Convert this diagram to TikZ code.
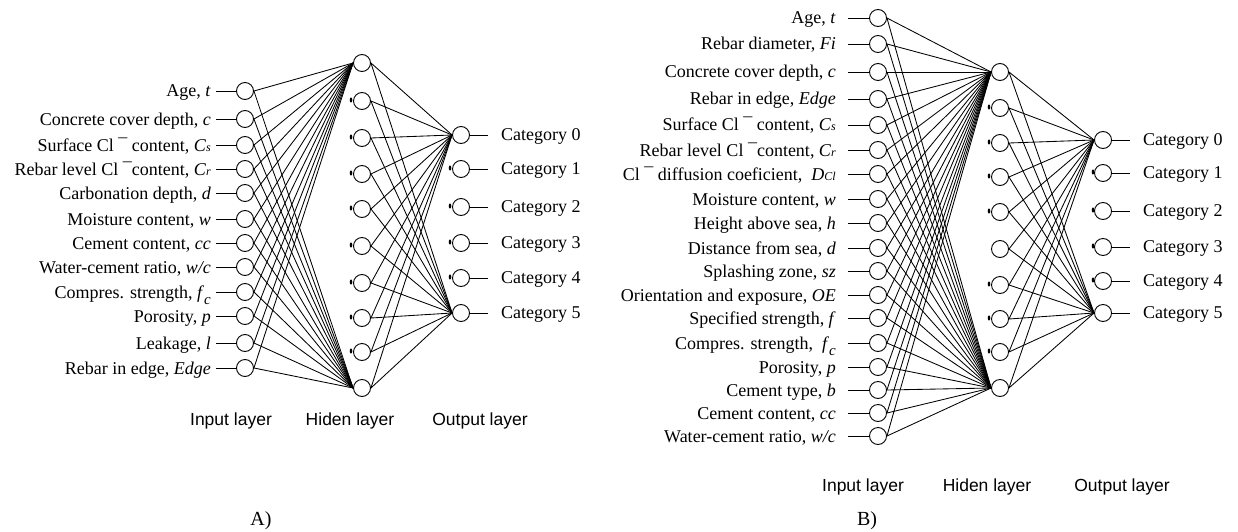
\documentclass[tikz,border=0pt]{standalone}
\usepackage{fontspec}
\setmainfont{Liberation Serif}
\newfontfamily\laysans{Liberation Sans}
\newcommand\smsub[1]{{\fontsize{12}{12}\selectfont\itshape #1}}
\newcommand\lowsub[1]{\raisebox{-6pt}{\fontsize{15}{15}\selectfont\itshape #1}}
\begin{document}
\begin{tikzpicture}[x=1pt,y=-1pt,font=\fontsize{18}{20}\selectfont,
  neuron/.style={circle,draw,line width=0.9pt,minimum size=17pt,inner sep=0pt},
  link/.style={line width=0.85pt},
  inlab/.style={anchor=base east,inner sep=0pt},
  catlab/.style={anchor=base west,inner sep=0pt},
  laylab/.style={anchor=base,inner sep=0pt,font=\laysans\fontsize{17.5}{20}\selectfont},
  panlab/.style={anchor=base,inner sep=0pt,font=\fontsize{20}{22}\selectfont}]
\useasboundingbox (0,0) rectangle (1238,532);

% ================= Panel A =================
\foreach \y [count=\i] in {91,119,145,169,193,219,243,267,292,316,343,368}
  \node[neuron] (ai\i) at (245,\y) {};
\foreach \y [count=\i] in {63,101,138,174,209,246,283,318,352,388}
  \node[neuron] (ah\i) at (362,\y) {};
\foreach \y [count=\i] in {135,169,207,243,278,313}
  \node[neuron] (ao\i) at (461,\y) {};

\foreach \t [count=\i] in {{Age, \textit{t}},
  {Concrete cover depth, \textit{c}},
  {Surface Cl ¯ content, \textit{C}\smsub{s}},
  {Rebar level Cl ¯content, \textit{C}\smsub{r}},
  {Carbonation depth, \textit{d}},
  {Moisture content, \textit{w}},
  {Cement content, \textit{cc}},
  {Water-cement ratio, \textit{w/c}},
  {Compres. strength, \textit{f}\lowsub{c}},
  {Porosity, \textit{p}},
  {Leakage, \textit{l}},
  {Rebar in edge, \textit{Edge}}}
{
  \path (ai\i) ++(-34,6) node[inlab] (al\i) {\t};
  \draw[link] (ai\i.west) -- ++(-20,0);
  \draw[link] (ai\i.east) -- (ah1.west);
  \draw[link] (ai\i.east) -- (ah10.west);
}
\foreach \i in {1,...,10}
{
  \draw[link] (ah\i.east) -- (ao1.west);
  \draw[link] (ah\i.east) -- (ao6.west);
}
\foreach \i in {2,...,9}
  \fill ([xshift=-11pt,yshift=1pt]ah\i.center) ellipse [x radius=1.3pt, y radius=2.6pt];
\foreach \i in {2,...,5}
  \fill ([xshift=-11pt,yshift=1pt]ao\i.center) ellipse [x radius=1.3pt, y radius=2.6pt];
\foreach \i [evaluate=\i as \k using int(\i-1)] in {1,...,6}
{
  \draw[link] (ao\i.east) -- ++(18,0);
  \path (ao\i) ++(40,5) node[catlab] (ac\i) {Category \k};
}
\node[laylab] (ainl) at (231,425) {Input layer};
\node[laylab] (ahl) at (350,425) {Hiden layer};
\node[laylab] (aol) at (480,425) {Output layer};
\node[panlab] (apan) at (261,525) {A)};

% ================= Panel B =================
\foreach \y [count=\i] in {18,44,72,99,125,150,174,199,223,248,271,295,318,343,367,390,413,436}
  \node[neuron] (bi\i) at (878,\y) {};
\foreach \y [count=\i] in {72,108,143,177,212,249,285,319,352,388}
  \node[neuron] (bh\i) at (1000,\y) {};
\foreach \y [count=\i] in {140,173,211,247,281,313}
  \node[neuron] (bo\i) at (1103,\y) {};

\foreach \t [count=\i] in {{Age, \textit{t}},
  {Rebar diameter, \textit{Fi}},
  {Concrete cover depth, \textit{c}\ },
  {Rebar in edge, \textit{Edge}},
  {Surface Cl ¯ content, \textit{C}\smsub{s}},
  {Rebar level Cl ¯content, \textit{C}\smsub{r}},
  {Cl ¯ diffusion coeficient, \ \textit{D}\smsub{Cl}},
  {Moisture content, \textit{w}},
  {Height above sea, \textit{h}},
  {Distance from sea, \textit{d}},
  {Splashing zone, \textit{sz}},
  {Orientation and exposure, \textit{OE}},
  {Specified strength, \textit{f}\ },
  {Compres. strength, \ \textit{f}\lowsub{c}},
  {Porosity, \textit{p}},
  {Cement type, \textit{b}},
  {Cement content, \textit{cc}},
  {Water-cement ratio, \textit{w/c}}}
{
  \path (bi\i) ++(-42,6) node[inlab] (bl\i) {\t};
  \draw[link] (bi\i.west) -- ++(-21,0);
  \draw[link] (bi\i.east) -- (bh1.west);
  \draw[link] (bi\i.east) -- (bh10.west);
}
\foreach \i in {1,...,10}
{
  \draw[link] (bh\i.east) -- (bo1.west);
  \draw[link] (bh\i.east) -- (bo6.west);
}
\foreach \i in {2,3,4,5,7,8,9}
  \fill ([xshift=-11pt,yshift=1pt]bh\i.center) ellipse [x radius=1.3pt, y radius=2.6pt];
\foreach \i in {2,...,5}
  \fill ([xshift=-10pt,yshift=1pt]bo\i.center) ellipse [x radius=1.3pt, y radius=2.6pt];
\foreach \i [evaluate=\i as \k using int(\i-1)] in {1,...,6}
{
  \draw[link] (bo\i.east) -- ++(18,0);
  \path (bo\i) ++(40,5) node[catlab] (bc\i) {Category \k};
}
\node[laylab] (binl) at (863,491) {Input layer};
\node[laylab] (bhl) at (987,491) {Hiden layer};
\node[laylab] (bol) at (1122,491) {Output layer};
\node[panlab] (bpan) at (867,525) {B)};
\end{tikzpicture}
\end{document}
